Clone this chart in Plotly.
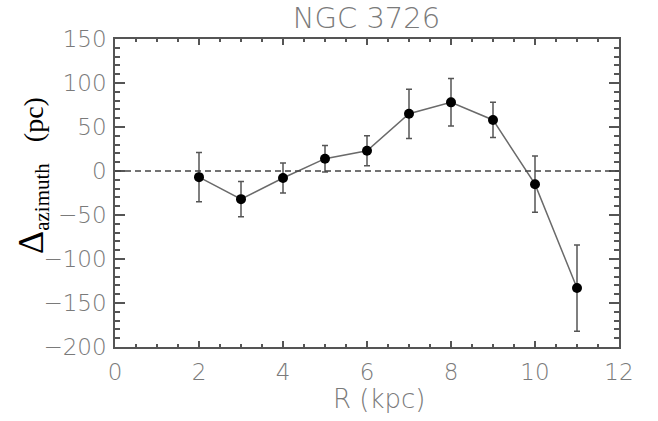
import plotly.graph_objects as go

R_kpc = [2, 3, 4, 5, 6, 7, 8, 9, 10, 11]
delta_pc = [-7, -32, -8, 14, 23, 65, 78, 58, -15, -133]
err_pc = [28, 20, 17, 15, 17, 28, 27, 20, 32, 49]
x_ticks = [0, 2, 4, 6, 8, 10, 12]
y_ticks = [-200, -150, -100, -50, 0, 50, 100, 150]

axis_col = "#555555"
label_col = "#7a7a7a"
tick_font = dict(family="DejaVu Sans", size=23, color=label_col, weight=300)

fig = go.Figure()
fig.add_trace(go.Scatter(
    x=R_kpc, y=delta_pc, mode="lines+markers",
    line=dict(color="#6a6a6a", width=1.5),
    marker=dict(color="black", size=10),
    error_y=dict(type="data", array=err_pc, visible=True,
                 color="#555555", thickness=1.5, width=3),
    showlegend=False,
))
fig.add_hline(y=0, line=dict(color="#444444", width=1.5, dash="6px,4px"))

fig.update_xaxes(
    range=[0, 12], tickvals=x_ticks, ticks="inside", ticklen=6, tickwidth=1.5,
    tickcolor=axis_col, showline=True, linecolor=axis_col, linewidth=1.5,
    mirror="allticks", showgrid=False, zeroline=False, tickfont=tick_font,
    automargin=False, ticklabelstandoff=4,
    minor=dict(dtick=0.5, ticks="inside", ticklen=3, tickwidth=1.5, tickcolor=axis_col, showgrid=False),
)
fig.update_yaxes(
    range=[-200, 150], tickvals=y_ticks, ticks="inside", ticklen=10, tickwidth=1.5,
    tickcolor=axis_col, showline=True, linecolor=axis_col, linewidth=1.5,
    mirror="allticks", showgrid=False, zeroline=False, tickfont=tick_font,
    tickformat="d", automargin=False, ticklabelstandoff=2,
    minor=dict(dtick=10, ticks="inside", ticklen=5, tickwidth=1.5, tickcolor=axis_col, showgrid=False),
)
# y-axis label
fig.add_annotation(
    text='<span style="font-size:36px">Δ</span><sub><span style="font-size:21px">azimuth</span></sub>&nbsp;&nbsp;&nbsp;<span style="font-size:28px">(pc)</span>',
    xref="paper", yref="paper", x=-0.165, y=0.558, textangle=-90,
    showarrow=False, xanchor="center", yanchor="middle",
    font=dict(family="Liberation Serif", size=28, color="black"),
)
# x-axis label
fig.add_annotation(
    text="R (kpc)", xref="paper", yref="paper", x=0.524, y=-0.17,
    showarrow=False, xanchor="center", yanchor="middle",
    font=dict(family="DejaVu Sans", size=26, color=label_col, weight=300),
)
fig.update_layout(
    width=658, height=421,
    margin=dict(l=115, r=39, t=39, b=74),
    paper_bgcolor="white", plot_bgcolor="white",
    title=dict(text="NGC 3726", x=0.557, xanchor="center", y=0.958, yanchor="middle",
               font=dict(family="DejaVu Sans", size=29, color=label_col, weight=300)),
)
fig.write_html("out.html", config={"displayModeBar": False},
               post_script="document.body.style.margin='0';")
